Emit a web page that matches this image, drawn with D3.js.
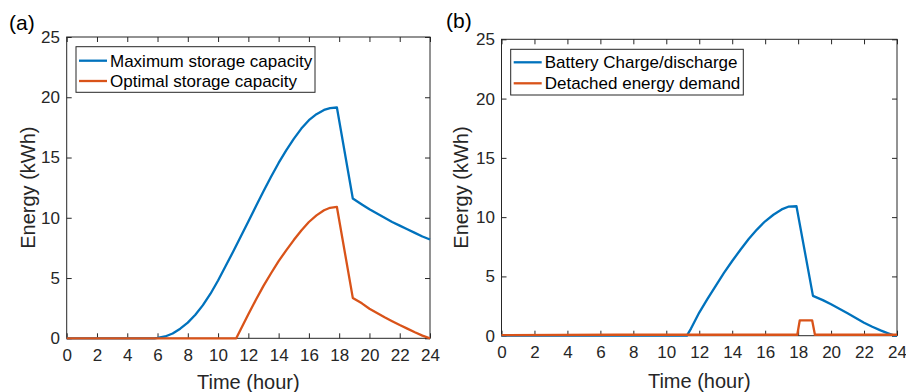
<!DOCTYPE html>
<html><head><meta charset="utf-8">
<script src="https://cdn.jsdelivr.net/npm/d3@7"></script>
<style>body{margin:0;background:#fff}svg{display:block}</style>
</head><body>
<svg id="c" width="906" height="392"></svg>
<script>
// ---------- data ----------
const xTicks = [0, 2, 4, 6, 8, 10, 12, 14, 16, 18, 20, 22, 24];
const yTicks = [0, 5, 10, 15, 20, 25];

// Panel (a)
const maxCapHours = [0, 5.8, 6, 6.5, 7, 7.5, 8, 8.5, 9, 9.5, 10, 10.5, 11, 11.5, 12, 12.5, 13, 13.5, 14, 14.5, 15, 15.5, 16, 16.5, 17, 17.4, 17.85, 18.9, 19.5, 20, 20.5, 21, 21.5, 22, 22.5, 23, 23.5, 24];
const maxCap      = [0, 0, 0.03, 0.15, 0.4, 0.8, 1.3, 1.95, 2.75, 3.7, 4.8, 6.0, 7.2, 8.45, 9.7, 10.95, 12.2, 13.4, 14.55, 15.6, 16.55, 17.4, 18.1, 18.6, 18.95, 19.1, 19.15, 11.6, 11.1, 10.7, 10.35, 10.0, 9.65, 9.35, 9.05, 8.75, 8.45, 8.2];

const optCapHours = [0, 11.2, 11.5, 12, 12.5, 13, 13.5, 14, 14.5, 15, 15.5, 16, 16.5, 17, 17.4, 17.85, 18.9, 19.5, 20, 20.5, 21, 21.5, 22, 22.5, 23, 23.5, 24];
const optCap      = [0, 0, 0.75, 2.0, 3.2, 4.35, 5.4, 6.4, 7.3, 8.15, 8.95, 9.65, 10.2, 10.62, 10.83, 10.9, 3.35, 2.9, 2.45, 2.1, 1.75, 1.42, 1.1, 0.8, 0.5, 0.22, 0];

// Panel (b)
const batteryHours = [0, 11.25, 11.5, 12, 12.5, 13, 13.5, 14, 14.5, 15, 15.5, 16, 16.5, 17, 17.4, 17.9, 18.9, 19.5, 20, 20.5, 21, 21.5, 22, 22.5, 23, 23.5, 23.85, 24];
const battery      = [0, 0, 0.6, 1.95, 3.1, 4.2, 5.3, 6.3, 7.25, 8.15, 8.95, 9.65, 10.2, 10.65, 10.88, 10.92, 3.36, 3.0, 2.65, 2.28, 1.9, 1.5, 1.1, 0.75, 0.45, 0.18, 0, 0];

const detachedHours = [0, 7, 17.95, 18.1, 18.85, 19.02, 24];
const detached      = [0.05, 0.08, 0.08, 1.3, 1.3, 0.08, 0.08];

const legendA = ["Maximum storage capacity", "Optimal storage capacity"];
const legendB = ["Battery Charge/discharge", "Detached energy demand"];
const xLabel = "Time (hour)";
const yLabel = "Energy (kWh)";

// ---------- styles ----------
const BLUE = "#0072BD", ORANGE = "#D95319", AX = "#262626";
const FONT = "'Liberation Sans', Arial, Helvetica, sans-serif";

const svg = d3.select("#c");

const panels = [
  {
    tag: "(a)", tagX: 9, tagY: 29.5,
    l: 66.7, r: 430, t: 37, b: 338.3,
    xPad: 10.5, yPad: 6.7, xLabY: 389, yLabX: 28,
    series: [
      {h: maxCapHours, v: maxCap, c: BLUE, name: legendA[0]},
      {h: optCapHours, v: optCap, c: ORANGE, name: legendA[1]}
    ],
    leg: {x: 76, y: 46.7, w: 239, h: 45.6, rows: [14, 34.3]}
  },
  {
    tag: "(b)", tagX: 446, tagY: 28,
    l: 501.5, r: 897, t: 39.3, b: 335.7,
    xPad: 10, yPad: 6.5, xLabY: 388, yLabX: 461,
    series: [
      {h: batteryHours, v: battery, c: BLUE, name: legendB[0]},
      {h: detachedHours, v: detached, c: ORANGE, name: legendB[1]}
    ],
    leg: {x: 510.7, y: 49.3, w: 232.6, h: 45.7, rows: [13, 34]}
  }
];

panels.forEach(p => {
  const x = d3.scaleLinear().domain([0, 24]).range([p.l, p.r]);
  const y = d3.scaleLinear().domain([0, 25]).range([p.b, p.t]);
  const g = svg.append("g");

  // axes box
  g.append("rect").attr("x", p.l).attr("y", p.t)
    .attr("width", p.r - p.l).attr("height", p.b - p.t)
    .attr("fill", "none").attr("stroke", AX).attr("stroke-width", 1);

  const styleAxis = sel => {
    sel.select(".domain").remove();
    sel.selectAll("line").attr("stroke", AX).attr("stroke-width", 1);
    sel.selectAll("text").attr("fill", AX).style("font-family", FONT).style("font-size", "17px");
  };

  g.append("g").attr("transform", `translate(0,${p.b})`)
    .call(d3.axisBottom(x).tickValues(xTicks).tickSizeInner(-5).tickSizeOuter(0).tickPadding(p.xPad).tickFormat(d3.format("d")))
    .call(styleAxis);
  g.append("g").attr("transform", `translate(0,${p.t})`)
    .call(d3.axisTop(x).tickValues(xTicks).tickSizeInner(-5).tickSizeOuter(0).tickFormat(""))
    .call(styleAxis);
  g.append("g").attr("transform", `translate(${p.l},0)`)
    .call(d3.axisLeft(y).tickValues(yTicks).tickSizeInner(-5).tickSizeOuter(0).tickPadding(p.yPad).tickFormat(d3.format("d")))
    .call(styleAxis);
  g.append("g").attr("transform", `translate(${p.r},0)`)
    .call(d3.axisRight(y).tickValues(yTicks).tickSizeInner(-5).tickSizeOuter(0).tickFormat(""))
    .call(styleAxis);

  // lines
  const line = d3.line().x(d => x(d[0])).y(d => y(d[1])).curve(d3.curveLinear);
  p.series.forEach(s => {
    const pts = s.h.map((hh, i) => [hh, s.v[i]]);
    g.append("path").datum(pts).attr("d", line)
      .attr("fill", "none").attr("stroke", s.c).attr("stroke-width", 2.3)
      .attr("stroke-linejoin", "round");
  });

  // axis labels
  g.append("text").attr("x", (p.l + p.r) / 2).attr("y", p.xLabY)
    .attr("text-anchor", "middle").attr("fill", AX)
    .style("font-family", FONT).style("font-size", "20px").text(xLabel);
  g.append("text").attr("transform", `translate(${p.yLabX},${(p.t + p.b) / 2}) rotate(-90)`)
    .attr("text-anchor", "middle").attr("dy", "0.35em").attr("fill", AX)
    .style("font-family", FONT).style("font-size", "20px").text(yLabel);

  // panel tag
  g.append("text").attr("x", p.tagX).attr("y", p.tagY).attr("fill", "#000")
    .style("font-family", FONT).style("font-size", "21px").text(p.tag);

  // legend
  const L = p.leg;
  g.append("rect").attr("x", L.x).attr("y", L.y).attr("width", L.w).attr("height", L.h)
    .attr("fill", "#fff").attr("stroke", AX).attr("stroke-width", 1);
  p.series.forEach((s, i) => {
    const cy = L.y + L.rows[i];
    g.append("line").attr("x1", L.x + 3).attr("x2", L.x + 31).attr("y1", cy).attr("y2", cy)
      .attr("stroke", s.c).attr("stroke-width", 2.3);
    g.append("text").attr("x", L.x + 34).attr("y", cy).attr("dy", "0.35em").attr("fill", "#000")
      .style("font-family", FONT).style("font-size", "17px").text(s.name);
  });
});
</script>
</body></html>
